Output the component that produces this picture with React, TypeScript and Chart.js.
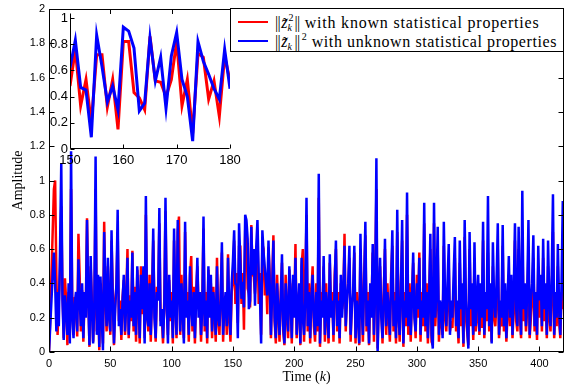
import { useEffect, useRef } from "react";
import { Chart, registerables } from "chart.js";

Chart.register(...registerables);

// ---------- DATA ----------
const knownProps: number[] = [
  0, 0.20, 0.45, 0.70, 0.95, 1.00, 0.45, 0.10, 0.30, 0.50,
  0.85, 0.35, 0.08, 0.43, 0.30, 0.04, 0.35, 0.10, 0.95, 0.25,
  0.10, 0.32, 0.28, 0.09, 0.69, 0.45, 0.12, 0.36, 0.06, 0.30,
  0.25, 0.78, 0.35, 0.03, 0.50, 0.30, 0.06, 0.25, 0.95, 0.12,
  0.40, 0.01, 0.40, 0.25, 0.05, 0.76, 0.30, 0.12, 0.50, 0.25,
  0.10, 0.65, 0.35, 0.04, 0.30, 0.38, 0.70, 0.18, 0.30, 0.07,
  0.32, 0.42, 0.10, 0.32, 0.60, 0.08, 0.33, 0.18, 0.59, 0.12,
  0.38, 0.06, 0.48, 0.28, 0.05, 0.50, 0.22, 0.45, 0.08, 0.80,
  0.22, 0.12, 0.45, 0.06, 0.35, 0.65, 0.25, 0.06, 0.38, 0.32,
  0.75, 0.18, 0.20, 0.05, 0.30, 0.82, 0.25, 0.10, 0.42, 0.18,
  0.35, 0.05, 0.65, 0.30, 0.08, 0.70, 0.79, 0.10, 0.45, 0.22,
  0.08, 0.70, 0.25, 0.35, 0.06, 0.45, 0.56, 0.12, 0.38, 0.05,
  0.35, 0.50, 0.25, 0.30, 0.06, 0.30, 0.72, 0.12, 0.35, 0.05,
  0.48, 0.25, 0.40, 0.08, 0.38, 0.22, 0.06, 0.55, 0.18, 0.10,
  0.35, 0.58, 0.06, 0.28, 0.32, 0.10, 0.57, 0.20, 0.06, 0.35,
  0.41, 0.65, 0.28, 0.46, 0.17, 0.62, 0.62, 0.28, 0.46, 0.13,
  0.71, 0.71, 0.37, 0.34, 0.26, 0.74, 0.45, 0.44, 0.34, 0.46,
  0.71, 0.28, 0.46, 0.10, 0.63, 0.60, 0.33, 0.45, 0.22, 0.61,
  0.45, 0.08, 0.40, 0.68, 0.18, 0.05, 0.45, 0.22, 0.06, 0.35,
  0.52, 0.12, 0.04, 0.45, 0.20, 0.08, 0.48, 0.35, 0.05, 0.40,
  0.25, 0.63, 0.08, 0.30, 0.35, 0.04, 0.50, 0.60, 0.06, 0.35,
  0.80, 0.12, 0.40, 0.05, 0.35, 0.50, 0.15, 0.06, 0.40, 0.12,
  0.90, 0.03, 0.35, 0.25, 0.50, 0.06, 0.40, 0.20, 0.05, 0.52,
  0.25, 0.35, 0.06, 0.45, 0.60, 0.12, 0.35, 0.05, 0.40, 0.25,
  0.30, 0.69, 0.12, 0.35, 0.35, 0.55, 0.06, 0.30, 0.30, 0.58,
  0.05, 0.35, 0.25, 0.04, 0.60, 0.30, 0.06, 0.45, 0.68, 0.12,
  0.35, 0.04, 0.35, 0.25, 0.58, 0.06, 0.40, 0.95, 0.02, 0.35,
  0.50, 0.25, 0.05, 0.35, 0.60, 0.10, 0.40, 0.20, 0.06, 0.45,
  0.62, 0.12, 0.35, 0.05, 0.70, 0.25, 0.06, 0.40, 0.65, 0.03,
  0.35, 0.15, 0.80, 0.10, 0.40, 0.06, 0.35, 0.52, 0.25, 0.08,
  0.45, 0.20, 0.58, 0.06, 0.35, 0.15, 0.75, 0.12, 0.40, 0.05,
  0.35, 0.60, 0.06, 0.04, 0.75, 0.15, 0.30, 0.60, 0.06, 0.25,
  0.18, 0.10, 0.62, 0.20, 0.12, 0.30, 0.50, 0.12, 0.18, 0.14,
  0.35, 0.55, 0.12, 0.20, 0.05, 0.52, 0.15, 0.30, 0.03, 0.67,
  0.20, 0.12, 0.04, 0.60, 0.15, 0.30, 0.07, 0.55, 0.12, 0.20,
  0.35, 0.10, 0.30, 0.14, 0.65, 0.08, 0.25, 0.18, 0.58, 0.12,
  0.30, 0.06, 0.50, 0.20, 0.15, 0.30, 0.60, 0.08, 0.20, 0.15,
  0.62, 0.12, 0.30, 0.06, 0.22, 0.45, 0.15, 0.35, 0.08, 0.25,
  0.65, 0.18, 0.12, 0.60, 0.20, 0.08, 0.70, 0.18, 0.30, 0.12,
  0.25, 0.60, 0.08, 0.20, 0.30, 0.55, 0.12, 0.25, 0.07, 0.50,
  0.20, 0.35, 0.12, 0.55, 0.18, 0.30, 0.08, 0.50, 0.20, 0.12,
  0.35, 0.70, 0.08, 0.25, 0.15, 0.50, 0.18, 0.08, 0.35, 0.25, 0.40,
];

const unknownProps: number[] = [
  0, 0.15, 0.30, 0.45, 0.58, 0.40, 0.12, 0.35, 0.15, 0.60,
  1.10, 0.30, 0.07, 0.33, 0.25, 0.10, 0.40, 0.05, 1.17, 0.20,
  0.08, 0.28, 0.35, 0.12, 0.54, 0.30, 0.15, 0.40, 0.08, 0.35,
  0.20, 0.77, 0.30, 0.04, 0.56, 0.25, 0.05, 0.30, 1.14, 0.10,
  0.45, 0.03, 0.44, 0.20, 0.01, 0.70, 0.35, 0.15, 0.55, 0.20,
  0.12, 0.71, 0.30, 0.05, 0.25, 0.40, 0.83, 0.15, 0.25, 0.10,
  0.30, 0.45, 0.12, 0.28, 0.55, 0.10, 0.30, 0.20, 0.58, 0.15,
  0.35, 0.10, 0.50, 0.30, 0.08, 0.45, 0.25, 0.50, 0.05, 0.91,
  0.20, 0.15, 0.40, 0.10, 0.30, 0.72, 0.20, 0.08, 0.35, 0.30,
  0.84, 0.15, 0.25, 0.08, 0.25, 0.90, 0.30, 0.05, 0.45, 0.20,
  0.30, 0.08, 0.72, 0.25, 0.10, 0.77, 0.35, 0.12, 0.40, 0.25,
  0.05, 0.76, 0.20, 0.30, 0.10, 0.50, 0.25, 0.15, 0.35, 0.08,
  0.30, 0.55, 0.20, 0.35, 0.10, 0.25, 0.79, 0.15, 0.30, 0.08,
  0.50, 0.20, 0.45, 0.12, 0.35, 0.25, 0.10, 0.50, 0.20, 0.15,
  0.30, 0.64, 0.10, 0.25, 0.35, 0.15, 0.55, 0.25, 0.10, 0.40,
  0.53, 0.71, 0.40, 0.39, 0.08, 0.75, 0.54, 0.31, 0.41, 0.26,
  0.80, 0.77, 0.66, 0.25, 0.30, 0.73, 0.45, 0.60, 0.27, 0.61,
  0.77, 0.46, 0.34, 0.05, 0.71, 0.58, 0.49, 0.40, 0.33, 0.65,
  0.40, 0.10, 0.35, 0.65, 0.20, 0.08, 0.40, 0.25, 0.10, 0.30,
  0.57, 0.15, 0.05, 0.40, 0.25, 0.12, 0.50, 0.30, 0.08, 0.45,
  0.20, 0.55, 0.10, 0.25, 0.40, 0.05, 0.55, 0.20, 0.10, 0.30,
  0.90, 0.15, 0.35, 0.08, 0.30, 0.45, 0.20, 0.10, 0.35, 0.15,
  1.04, 0.05, 0.30, 0.20, 0.56, 0.10, 0.35, 0.25, 0.08, 0.57,
  0.20, 0.30, 0.10, 0.40, 0.65, 0.15, 0.30, 0.08, 0.45, 0.20,
  0.35, 0.62, 0.15, 0.30, 0.40, 0.62, 0.10, 0.25, 0.35, 0.62,
  0.08, 0.30, 0.20, 0.05, 0.69, 0.25, 0.10, 0.40, 0.76, 0.15,
  0.30, 0.05, 0.40, 0.20, 0.63, 0.10, 0.35, 1.13, 0.00, 0.30,
  0.55, 0.20, 0.08, 0.30, 0.66, 0.15, 0.35, 0.25, 0.10, 0.40,
  0.71, 0.15, 0.30, 0.08, 0.83, 0.20, 0.10, 0.35, 0.77, 0.05,
  0.30, 0.20, 0.93, 0.15, 0.35, 0.10, 0.30, 0.58, 0.20, 0.12,
  0.40, 0.25, 0.55, 0.10, 0.30, 0.20, 0.87, 0.15, 0.35, 0.08,
  0.30, 0.69, 0.10, 0.02, 0.87, 0.20, 0.35, 0.73, 0.10, 0.30,
  0.25, 0.08, 0.76, 0.30, 0.15, 0.40, 0.63, 0.10, 0.30, 0.20,
  0.45, 0.67, 0.15, 0.30, 0.08, 0.65, 0.25, 0.40, 0.05, 0.77,
  0.30, 0.15, 0.02, 0.70, 0.25, 0.40, 0.10, 0.64, 0.15, 0.30,
  0.45, 0.12, 0.40, 0.20, 0.76, 0.10, 0.35, 0.25, 0.91, 0.15,
  0.40, 0.05, 0.64, 0.30, 0.20, 0.40, 0.75, 0.10, 0.30, 0.20,
  0.74, 0.15, 0.40, 0.08, 0.30, 0.56, 0.20, 0.45, 0.10, 0.35,
  0.75, 0.25, 0.15, 0.73, 0.30, 0.10, 0.94, 0.25, 0.40, 0.15,
  0.35, 0.77, 0.10, 0.30, 0.40, 0.68, 0.15, 0.35, 0.10, 0.62,
  0.30, 0.45, 0.15, 0.66, 0.25, 0.40, 0.10, 0.65, 0.30, 0.15,
  0.45, 0.92, 0.10, 0.35, 0.20, 0.63, 0.25, 0.10, 0.40, 0.88, 0.30,
];

// inset (k = 150 ... 180)
const insetKnown: number[] = [
  0.48, 0.76, 0.33, 0.53, 0.20, 0.72, 0.72, 0.32, 0.53, 0.15,
  0.82, 0.82, 0.43, 0.39, 0.30, 0.86, 0.52, 0.51, 0.40, 0.53,
  0.82, 0.33, 0.53, 0.12, 0.73, 0.70, 0.38, 0.52, 0.25, 0.71, 0.52,
];
const insetUnknown: number[] = [
  0.62, 0.83, 0.47, 0.45, 0.09, 0.87, 0.63, 0.36, 0.48, 0.30,
  0.93, 0.90, 0.77, 0.29, 0.35, 0.85, 0.52, 0.70, 0.31, 0.71,
  0.89, 0.53, 0.40, 0.06, 0.82, 0.67, 0.57, 0.46, 0.38, 0.76, 0.46,
];
const insetStart = 150;

const mainXTicks = [0, 50, 100, 150, 200, 250, 300, 350, 400];
const mainYTicks = [0, 0.2, 0.4, 0.6, 0.8, 1, 1.2, 1.4, 1.6, 1.8, 2];
const insetXTicks = [150, 160, 170, 180];
const insetYTicks = [0, 0.2, 0.4, 0.6, 0.8, 1];

const xAxisTitle = ["Time (", "k", ")"];
const yAxisTitle = "Amplitude";
const legendTail = ["with known statistical properties", "with unknown statistical properties"];

const RED = "#ff0000";
const BLUE = "#0000ff";

const toXY = (vals: number[], start: number) =>
  vals.map((v, i) => ({ x: start + i, y: v }));

const fmt = (v: number) => String(Math.round(v * 10) / 10);
const fixTicks = (list: number[]) => (s: any) => {
  s.ticks = list.map((v) => ({ value: v }));
};

// ---------- PLUGINS ----------
const mainFrame = {
  id: "mainFrame",
  afterDraw(chart: any) {
    const { ctx, chartArea: a, scales } = chart;
    const x = scales.x;
    const y = scales.y;
    const L = Math.round(a.left) + 0.5;
    const R = Math.round(a.right) - 0.5;
    const T = Math.round(a.top) + 0.5;
    const B = Math.round(a.bottom) - 0.5;
    ctx.save();
    ctx.strokeStyle = "#000";
    ctx.lineWidth = 1;
    ctx.strokeRect(L, T, R - L, B - T);
    ctx.beginPath();
    for (const v of mainXTicks) {
      const px = Math.round(x.getPixelForValue(v)) + 0.5;
      ctx.moveTo(px, B);
      ctx.lineTo(px, B - 5);
      ctx.moveTo(px, T);
      ctx.lineTo(px, T + 5);
    }
    for (const v of mainYTicks) {
      const py = Math.round(y.getPixelForValue(v)) + 0.5;
      ctx.moveTo(L, py);
      ctx.lineTo(L + 5, py);
      ctx.moveTo(R, py);
      ctx.lineTo(R - 5, py);
    }
    ctx.stroke();

    // axis titles
    ctx.fillStyle = "#000";
    ctx.textBaseline = "middle";
    const fNorm = '14px "Liberation Serif", serif';
    const fItal = 'italic 14px "Liberation Serif", serif';
    ctx.font = fNorm;
    const w0 = ctx.measureText(xAxisTitle[0]).width;
    const w2 = ctx.measureText(xAxisTitle[2]).width;
    ctx.font = fItal;
    const w1 = ctx.measureText(xAxisTitle[1]).width;
    const total = w0 + w1 + w2;
    let cx = (a.left + a.right) / 2 - total / 2;
    const ty = 377;
    ctx.textAlign = "left";
    ctx.font = fNorm;
    ctx.fillText(xAxisTitle[0], cx, ty);
    cx += w0;
    ctx.font = fItal;
    ctx.fillText(xAxisTitle[1], cx, ty);
    cx += w1;
    ctx.font = fNorm;
    ctx.fillText(xAxisTitle[2], cx, ty);

    ctx.translate(18, (a.top + a.bottom) / 2);
    ctx.rotate(-Math.PI / 2);
    ctx.textAlign = "center";
    ctx.fillText(yAxisTitle, 0, 0);
    ctx.restore();
  },
};

const insetFrame = {
  id: "insetFrame",
  beforeDatasetsDraw(chart: any) {
    const { ctx, chartArea: a } = chart;
    ctx.save();
    ctx.fillStyle = "#fff";
    ctx.fillRect(a.left, a.top - 4, a.right - a.left, a.bottom - a.top + 4);
    ctx.restore();
  },
  afterDraw(chart: any) {
    const { ctx, chartArea: a, scales } = chart;
    const x = scales.x;
    const y = scales.y;
    const L = Math.round(a.left) + 0.5;
    const B = Math.round(a.bottom) - 0.5;
    const R = Math.round(a.right) - 0.5;
    const T = Math.round(a.top) - 4.5;
    ctx.save();
    ctx.strokeStyle = "#000";
    ctx.lineWidth = 1;
    ctx.beginPath();
    ctx.moveTo(L, T);
    ctx.lineTo(L, B);
    ctx.lineTo(R, B);
    for (const v of insetXTicks) {
      const px = Math.round(x.getPixelForValue(v)) + 0.5;
      ctx.moveTo(px, B);
      ctx.lineTo(px, B - 4);
    }
    for (const v of insetYTicks) {
      const py = Math.round(y.getPixelForValue(v)) + 0.5;
      ctx.moveTo(L, py);
      ctx.lineTo(L + 4, py);
    }
    ctx.stroke();
    ctx.restore();
  },
};

// ---------- LEGEND MATH ----------
function Stack({ sup, sub }: { sup?: string; sub?: string }) {
  return (
    <span
      style={{
        position: "relative",
        display: "inline-block",
        width: 7,
        height: 16,
        verticalAlign: "baseline",
      }}
    >
      {sup ? (
        <span style={{ position: "absolute", left: 1, top: 1, fontSize: 10, lineHeight: "10px" }}>
          {sup}
        </span>
      ) : null}
      {sub ? (
        <span
          style={{
            position: "absolute",
            left: 0,
            top: 11,
            fontSize: 10,
            lineHeight: "10px",
            fontStyle: "italic",
          }}
        >
          {sub}
        </span>
      ) : null}
    </span>
  );
}

function Norm() {
  return <span style={{ letterSpacing: -0.6, marginRight: 1 }}>||</span>;
}

export default function App() {
  const mainRef = useRef<HTMLCanvasElement>(null);
  const insetRef = useRef<HTMLCanvasElement>(null);

  useEffect(() => {
    const tickFont = { family: '"Liberation Sans", Arial, sans-serif', size: 11 };
    const main = new Chart(mainRef.current!, {
      type: "line",
      data: {
        datasets: [
          {
            label: "known",
            data: toXY(knownProps, 0),
            borderColor: RED,
            borderWidth: 2.5,
            pointRadius: 0,
            tension: 0,
            borderJoinStyle: "bevel",
            order: 2,
          },
          {
            label: "unknown",
            data: toXY(unknownProps, 0),
            borderColor: BLUE,
            borderWidth: 2.5,
            pointRadius: 0,
            tension: 0,
            borderJoinStyle: "bevel",
            order: 1,
          },
        ],
      },
      options: {
        animation: false,
        responsive: false,
        events: [],
        layout: { padding: { top: 9, right: 1, left: 0, bottom: 0 } },
        plugins: { legend: { display: false }, tooltip: { enabled: false } },
        scales: {
          x: {
            type: "linear",
            min: 0,
            max: 420,
            grid: { display: false, drawTicks: false },
            border: { display: false },
            afterBuildTicks: fixTicks(mainXTicks),
            ticks: {
              autoSkip: false,
              maxRotation: 0,
              padding: 5,
              color: "#000",
              font: tickFont,
              callback: (v: any) => String(v),
            },
            afterFit: (s: any) => {
              s.height = 33;
              s.paddingLeft = 0;
              s.paddingRight = 0;
            },
          },
          y: {
            type: "linear",
            min: 0,
            max: 2,
            grid: { display: false, drawTicks: false },
            border: { display: false },
            afterBuildTicks: fixTicks(mainYTicks),
            ticks: {
              padding: 4,
              color: "#000",
              font: tickFont,
              callback: (v: any) => fmt(v),
            },
            afterFit: (s: any) => {
              s.width = 49;
              s.paddingTop = 0;
              s.paddingBottom = 0;
            },
          },
        },
      },
      plugins: [mainFrame],
    } as any);

    const insetFont = { family: '"Liberation Sans", Arial, sans-serif', size: 13 };
    const inset = new Chart(insetRef.current!, {
      type: "line",
      data: {
        datasets: [
          {
            label: "known",
            data: toXY(insetKnown, insetStart),
            borderColor: RED,
            borderWidth: 3,
            pointRadius: 0,
            tension: 0,
            order: 2,
          },
          {
            label: "unknown",
            data: toXY(insetUnknown, insetStart),
            borderColor: BLUE,
            borderWidth: 3,
            pointRadius: 0,
            tension: 0,
            order: 1,
          },
        ],
      },
      options: {
        animation: false,
        responsive: false,
        events: [],
        layout: { padding: { top: 18, right: 20, left: 0, bottom: 0 } },
        plugins: { legend: { display: false }, tooltip: { enabled: false } },
        scales: {
          x: {
            type: "linear",
            min: 150,
            max: 180,
            grid: { display: false, drawTicks: false },
            border: { display: false },
            afterBuildTicks: fixTicks(insetXTicks),
            ticks: {
              autoSkip: false,
              maxRotation: 0,
              padding: 4,
              color: "#000",
              font: insetFont,
              callback: (v: any) => String(v),
            },
            afterFit: (s: any) => {
              s.height = 26;
              s.paddingLeft = 0;
              s.paddingRight = 0;
            },
          },
          y: {
            type: "linear",
            min: 0,
            max: 1,
            grid: { display: false, drawTicks: false },
            border: { display: false },
            afterBuildTicks: fixTicks(insetYTicks),
            ticks: {
              padding: 2,
              color: "#000",
              font: insetFont,
              callback: (v: any) => fmt(v),
            },
            afterFit: (s: any) => {
              s.width = 70;
              s.paddingTop = 0;
              s.paddingBottom = 0;
            },
          },
        },
      },
      plugins: [insetFrame],
    } as any);

    return () => {
      main.destroy();
      inset.destroy();
    };
  }, []);

  const legendFont = '"Liberation Serif", "DejaVu Serif", serif';
  const rowStyle = (top: number): any => ({
    position: "absolute",
    left: 0,
    top,
    height: 19,
    width: "100%",
    display: "flex",
    alignItems: "center",
    whiteSpace: "nowrap",
  });
  const swatch = (c: string) => (
    <span
      style={{
        display: "inline-block",
        width: 30,
        height: 2,
        background: c,
        marginLeft: 7,
        marginRight: 7,
        flex: "none",
      }}
    />
  );

  return (
    <div
      style={{
        position: "fixed",
        left: 0,
        top: 0,
        width: 565,
        height: 385,
        background: "#fff",
        overflow: "hidden",
      }}
    >
      <canvas
        ref={mainRef}
        width={565}
        height={385}
        style={{ position: "absolute", left: 0, top: 0 }}
      />
      <canvas
        ref={insetRef}
        width={250}
        height={175}
        style={{ position: "absolute", left: 0, top: 0 }}
      />
      <div
        style={{
          position: "absolute",
          left: 230,
          top: 8,
          width: 334,
          height: 44,
          background: "#fff",
          border: "1px solid #000",
          boxSizing: "border-box",
          fontFamily: legendFont,
          fontSize: 16,
          color: "#000",
        }}
      >
        <div style={rowStyle(3)}>
          {swatch(RED)}
          <span style={{ lineHeight: "19px" }}>
            <Norm />
            <i>z&#771;</i>
            <Stack sup="2" sub="k" />
            <Norm />{" "}
            <span style={{ letterSpacing: 0.8 }}>{legendTail[0]}</span>
          </span>
        </div>
        <div style={rowStyle(22)}>
          {swatch(BLUE)}
          <span style={{ lineHeight: "19px" }}>
            <Norm />
            <i>z&#771;</i>
            <Stack sub="k" />
            <Norm />
            <Stack sup="2" />{" "}
            <span style={{ letterSpacing: 0.6 }}>{legendTail[1]}</span>
          </span>
        </div>
      </div>
    </div>
  );
}
